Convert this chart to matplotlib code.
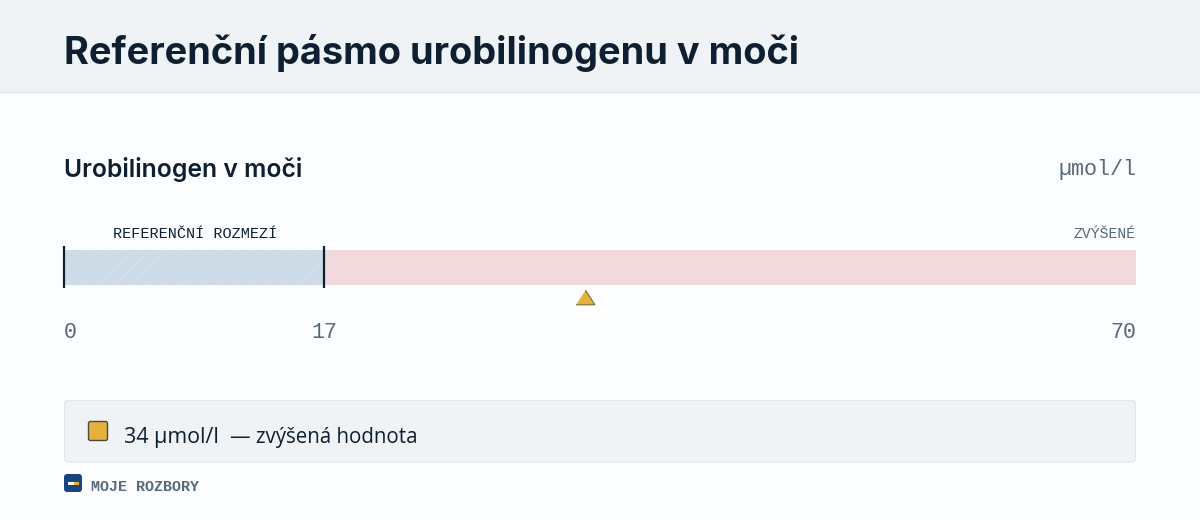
import matplotlib
matplotlib.use("Agg")
import matplotlib.pyplot as plt
from matplotlib.patches import FancyBboxPatch, Rectangle

plt.rcParams["hatch.linewidth"] = 0.7

# Data
axis_min = 0
ref_max = 17
axis_max = 70
measured = 34
tick_values = [0, 17, 70]
tick_labels = ["0", "17", "70"]

title = "Referenční pásmo urobilinogenu v moči"
subtitle = "Urobilinogen v moči"
unit = "µmol/l"
ref_label = "REFERENČNÍ ROZMEZÍ"
high_label = "ZVÝŠENÉ"
result_value = "34 µmol/l"
result_note = "— zvýšená hodnota"
footer = "MOJE ROZBORY"

# Colours
bg = "#fbfdfe"
panel = "#eff3f6"
border = "#dfe5ea"
ink = "#0d1f30"
muted = "#566879"
blue_zone = "#cddbe7"
red_zone = "#f2d9dc"
amber = "#e3b23c"
navy = "#18457f"

W, H = 1200, 520
fig = plt.figure(figsize=(W / 100, H / 100), dpi=100, facecolor=bg)

# page layer in pixel coordinates
page = fig.add_axes([0, 0, 1, 1], zorder=0)
page.set_xlim(0, W)
page.set_ylim(H, 0)
page.axis("off")

page.add_patch(Rectangle((0, 0), W, 92, fc=panel, ec="none"))
page.plot([0, W], [92, 92], color=border, lw=1)
page.text(64, 52.5, title, family="Inter", weight="bold", fontsize=27.3, color=ink, va="center")

page.text(64, 169.5, subtitle, family="Inter", weight="semibold", fontsize=17.8, color=ink, va="center")
page.text(1136, 170, unit, family="Liberation Mono", fontsize=15.7, color=muted, va="center", ha="right")
page.text(113, 234, ref_label, family="Liberation Mono", fontsize=10.9, color=ink, va="center")
page.text(1136, 234, high_label, family="Liberation Mono", fontsize=10.6, color=muted, va="center", ha="right")

# result box
page.add_patch(FancyBboxPatch((64.5, 400.5), 1071, 61.5, boxstyle="round,pad=0,rounding_size=4", fc=panel, ec=border, lw=0.8))
page.add_patch(FancyBboxPatch((88.5, 421.5), 19, 19, boxstyle="round,pad=0,rounding_size=2", fc=amber, ec="#4a4a3a", lw=1))
page.text(124, 437.5, result_value, family="Open Sans", fontsize=15.4, color=ink, va="center")
page.text(230, 437.5, result_note, family="Open Sans", fontsize=14.8, color=ink, va="center")

# footer
page.add_patch(FancyBboxPatch((64, 474), 18, 18, boxstyle="round,pad=0,rounding_size=3", fc=navy, ec="none"))
page.add_patch(Rectangle((68, 481.5), 5.5, 3.5, fc="#f4f6f8", ec="none"))
page.add_patch(Rectangle((73.5, 481.5), 5, 3.5, fc=amber, ec="none"))
page.text(91, 487, footer, family="Liberation Mono", weight="bold", fontsize=10.8, color=muted, va="center")

# scale bar
ax = fig.add_axes([64 / W, (H - 285) / H, 1072 / W, 35 / H], zorder=1)
ax.set_xlim(axis_min, axis_max)
ax.set_ylim(0, 1)
ax.patch.set_alpha(0)
for s in ax.spines.values():
    s.set_visible(False)
ax.set_yticks([])

ax.barh(0.5, ref_max - axis_min, left=axis_min, height=1, color=blue_zone, edgecolor="none")
ax.barh(0.5, ref_max - axis_min, left=axis_min, height=1, facecolor="none", edgecolor="#d8e3ec", hatch="//", linewidth=0)
ax.barh(0.5, axis_max - ref_max, left=ref_max, height=1, color=red_zone, edgecolor="none")

for b in [axis_min, ref_max]:
    ax.plot([b, b], [-0.09, 1.11], color=ink, lw=1.6, clip_on=False, solid_capstyle="butt")

tri = [(-1, -0.78), (1, -0.78), (0, 0.78)]
ax.plot([measured], [-0.34], marker=tri, ms=13.5, mfc=amber, mec="#7a6a3c", mew=0.8, ls="none", clip_on=False)

ax.set_xticks(tick_values, tick_labels, family="Liberation Mono", fontsize=15.6, color=muted)
ax.tick_params(axis="x", length=0, pad=27)
labels = ax.get_xticklabels()
labels[0].set_ha("left")
labels[-1].set_ha("right")

fig.savefig("out.png", dpi=100, facecolor=bg)
